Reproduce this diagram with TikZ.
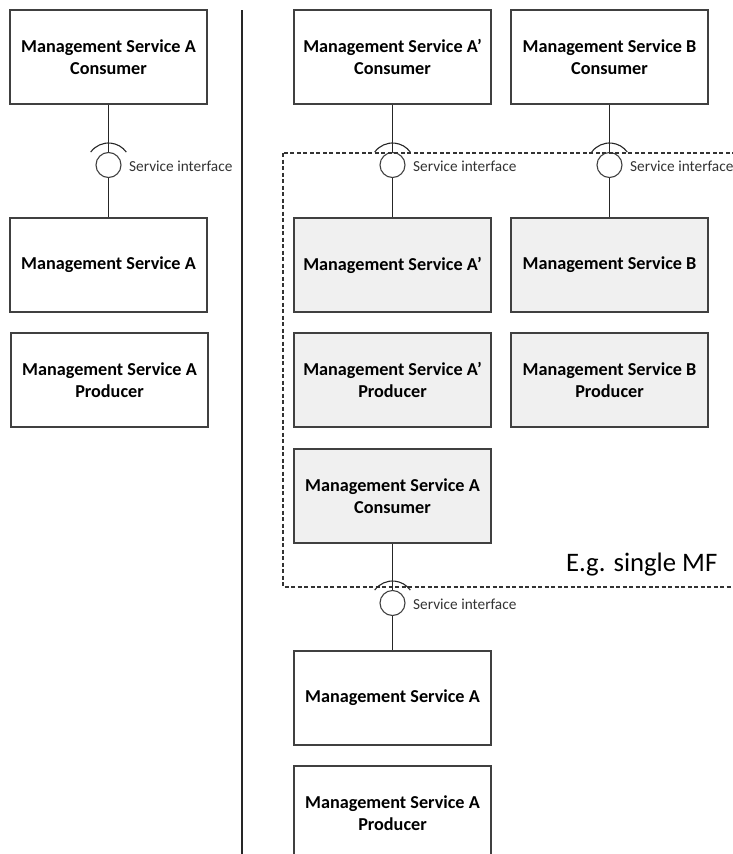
\documentclass[tikz,border=0pt]{standalone}
\usepackage{fontspec}
\setmainfont{Carlito}
\tikzset{
  msbox/.style={draw=black!75, line width=1.1pt, minimum width=197pt, minimum height=94pt,
    inner sep=0pt, align=center, font=\fontsize{18.2}{21.5}\selectfont\bfseries},
  msgray/.style={msbox, fill=black!6},
  iface/.style={circle, draw=black!75, line width=1.1pt, minimum size=25pt, inner sep=0pt},
  ilabel/.style={anchor=west, inner sep=0pt, text=black!80, font=\fontsize{15.3}{17}\selectfont},
  link/.style={draw=black!85, line width=1.1pt},
  mfbox/.style={draw=black!80, line width=1.2pt, dash pattern=on 4pt off 2.5pt},
}
\begin{document}
\begin{tikzpicture}[x=1pt, y=-1pt]
  \useasboundingbox (0,0) rectangle (733,854);

  % Nodi
  \node[msbox] (conA) at (108.5,57) {Management Service A\\Consumer};
  \node[msbox] (msA) at (108.5,265) {Management Service A};
  \node[msbox] (prodA) at (109.5,380) {Management Service A\\Producer};

  \node[msbox] (conAp) at (392.5,57) {Management Service A'\\Consumer};
  \node[msgray] (msAp) at (392.5,265) {Management Service A'};
  \node[msgray] (prodAp) at (392.5,380) {Management Service A'\\Producer};
  \node[msgray] (conAin) at (392.5,496) {Management Service A\\Consumer};
  \node[msbox] (msAr) at (392.5,698) {Management Service A};
  \node[msbox] (prodAr) at (392.5,813) {Management Service A\\Producer};

  \node[msbox] (conB) at (609.5,57) {Management Service B\\Consumer};
  \node[msgray] (msB) at (609.5,265) {Management Service B};
  \node[msgray] (prodB) at (609.5,380) {Management Service B\\Producer};

  % Interfacce
  \node[iface] (ifL) at (108.5,165) {};
  \node[iface] (ifAp) at (392.5,165) {};
  \node[iface] (ifB) at (609.5,165) {};
  \node[iface] (ifR) at (392.5,603) {};
  \node[ilabel] (lblL) at (129,166) {Service interface};
  \node[ilabel] (lblAp) at (413,166) {Service interface};
  \node[ilabel] (lblB) at (630,166) {Service interface};
  \node[ilabel] (lblR) at (413,604) {Service interface};

  % Gruppo MF
  \draw[mfbox] (283,153) rectangle (745,587);
  \node[anchor=west, inner sep=0pt, font=\fontsize{26.7}{30}\selectfont] (mf) at (566,565) {E.g. single MF};

  % Separatore
  \coordinate (sepT) at (242,10);
  \coordinate (sepB) at (242,854);
  \draw[link] (sepT) -- (sepB);

  % Collegamenti
  \draw[link] (conA) -- (ifL);
  \draw[link] (ifL) -- (msA);
  \draw[link] (conAp) -- (ifAp);
  \draw[link] (ifAp) -- (msAp);
  \draw[link] (conB) -- (ifB);
  \draw[link] (ifB) -- (msB);
  \draw[link] (conAin) -- (ifR);
  \draw[link] (ifR) -- (msAr);
  \foreach \i in {ifL, ifAp, ifB, ifR}
    \draw[link] ([shift={(144:22pt)}]\i.center) arc[start angle=144, end angle=36, radius=22pt];
\end{tikzpicture}
\end{document}
